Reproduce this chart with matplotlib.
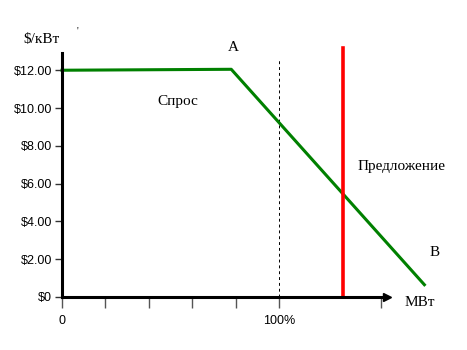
import matplotlib.pyplot as plt

# Demand curve (x in % of capacity, y in $/kW)
demand_x = [0, 78, 167]
demand_y = [12.0, 12.05, 0.65]
# Supply: vertical line
supply_x = 129.5
supply_top = 13.2
# Reference 100% dashed line
ref_x = 100
ref_top = 12.6

yticks = [0, 2, 4, 6, 8, 10, 12]
ylabels = ["$0", "$2.00", "$4.00", "$6.00", "$8.00", "$10.00", "$12.00"]
xticks = [0, 20, 40, 60, 80, 100, 147]
xlabels = ["0", "", "", "", "", "100%", ""]

fig = plt.figure(figsize=(4.67, 3.5), dpi=100)
ax = fig.add_axes([62 / 467, 53 / 350, 378 / 467, 257 / 350])
ax.set_xlim(0, 174.2)
ax.set_ylim(0, 13.6)

for s in ["top", "right"]:
    ax.spines[s].set_visible(False)
ax.spines["left"].set_linewidth(2.2)
ax.spines["left"].set_bounds(0, 12.9)
ax.spines["bottom"].set_linewidth(2.2)
ax.spines["bottom"].set_bounds(0, 150)
ax.plot([150], [0], marker=">", color="black", markersize=6, clip_on=False, zorder=5)

ax.set_yticks(yticks)
ax.set_yticklabels(ylabels, fontfamily="Liberation Sans", fontsize=9)
ax.set_xticks(xticks)
ax.set_xticklabels(xlabels, fontfamily="Liberation Sans", fontsize=9)
ax.tick_params(axis="y", length=5, width=1, color="#333333", pad=2)
ax.tick_params(axis="x", length=8, width=1, color="#555555", pad=5)

ax.plot([ref_x, ref_x], [0, ref_top], color="black", linestyle=(0, (3, 3)), linewidth=0.7)
ax.plot(demand_x, demand_y, color="#008000", linewidth=2.2, clip_on=False)
ax.plot([supply_x, supply_x], [0, supply_top], color="red", linewidth=2.6)

serif = "Liberation Serif"
fs = 11
ax.text(-9.5, 13.3, "$/кВт", fontfamily=serif, fontsize=fs, ha="center", va="bottom")
ax.text(79, 12.85, "А", fontfamily=serif, fontsize=fs, ha="center", va="bottom")
ax.text(53.5, 10.35, "Спрос", fontfamily=serif, fontsize=fs, ha="center", va="center")
ax.text(156.5, 6.9, "Предложение", fontfamily=serif, fontsize=fs, ha="center", va="center")
ax.text(171.5, 2.35, "В", fontfamily=serif, fontsize=fs, ha="center", va="center")
ax.text(165, -0.3, "МВт", fontfamily=serif, fontsize=fs, ha="center", va="center")
ax.text(7, 14.1, "'", fontfamily=serif, fontsize=7, ha="center", va="center")

fig.savefig("out.png", dpi=100)
